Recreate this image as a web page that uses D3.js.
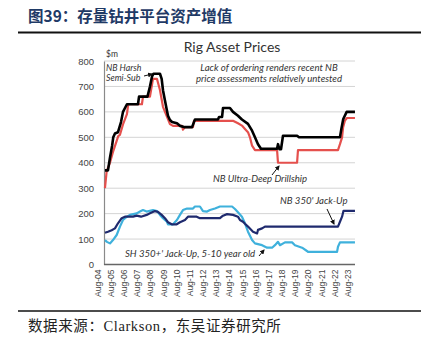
<!DOCTYPE html>
<html><head><meta charset="utf-8">
<script src="https://cdn.jsdelivr.net/npm/d3@7"></script>
<style>
html,body{margin:0;padding:0;background:#fff;}
svg{display:block;}
</style></head>
<body>
<svg id="chart" width="425" height="347"></svg>
<script>
// ---- data (x as decimal year, Aug = .583) ----
const tickYears = [2004,2005,2006,2007,2008,2009,2010,2011,2012,2013,2014,2015,2016,2017,2018,2019,2020,2021,2022,2023];
const tickLabels = ["Aug-04","Aug-05","Aug-06","Aug-07","Aug-08","Aug-09","Aug-10","Aug-11","Aug-12","Aug-13","Aug-14","Aug-15","Aug-16","Aug-17","Aug-18","Aug-19","Aug-20","Aug-21","Aug-22","Aug-23"];
const yTicks = [0,100,200,300,400,500,600,700,800];

const harshT = [2004.58,2004.81,2004.96,2005.12,2005.21,2005.34,2005.57,2005.80,2005.95,2006.25,2007.09,2007.17,2007.81,2008.00,2008.16,2008.27,2008.76,2008.89,2008.99,2009.14,2009.27,2009.37,2009.52,2009.68,2010.05,2010.28,2010.66,2011.20,2011.42,2013.17,2013.25,2013.48,2013.55,2014.08,2014.31,2014.69,2014.99,2015.45,2015.76,2015.98,2016.21,2016.44,2017.66,2017.73,2017.84,2017.96,2018.11,2019.18,2019.33,2022.44,2022.57,2022.69,2022.95,2023.58];
const harshV = [370,370,420,466,500,515,520,560,600,630,630,660,660,700,740,750,750,730,685,645,610,585,568,560,555,545,540,540,570,570,580,580,615,615,600,585,570,553,526,500,473,455,455,473,453,453,506,506,500,500,540,572,600,600];

const udT = [2004.58,2004.71,2004.96,2005.21,2005.47,2005.59,2005.72,2005.95,2006.25,2006.35,2007.39,2007.47,2008.00,2008.23,2008.53,2008.76,2008.99,2009.29,2009.52,2009.75,2010.44,2010.51,2010.66,2011.27,2011.35,2014.31,2014.69,2014.99,2015.22,2015.45,2015.60,2015.76,2015.98,2017.66,2017.73,2019.18,2019.25,2022.29,2022.44,2022.60,2022.68,2022.82,2022.97,2023.58];
const udV = [300,367,400,446,486,505,510,551,591,630,630,660,660,730,730,686,620,581,552,545,545,530,540,540,565,565,555,546,533,520,500,467,450,450,400,400,450,450,473,500,540,566,576,576];

const nbJuT = [2004.58,2004.81,2005.09,2005.34,2005.57,2005.85,2006.10,2006.71,2006.99,2007.32,2007.75,2008.00,2008.38,2008.61,2008.89,2009.14,2009.37,2009.65,2010.03,2010.28,2010.66,2010.89,2011.55,2011.80,2013.32,2013.55,2013.86,2014.31,2014.69,2014.84,2015.07,2015.22,2015.45,2015.83,2016.14,2016.21,2016.52,2016.74,2022.29,2022.44,2022.60,2022.71,2023.58];
const nbJuV = [125,129,135,142,162,182,188,188,192,188,195,201,210,207,195,182,166,158,158,166,175,188,188,182,182,192,198,195,188,175,168,160,149,129,122,136,142,149,149,168,188,211,211];

const shJuT = [2004.58,2004.73,2004.96,2005.19,2005.47,2005.72,2005.95,2006.25,2006.48,2006.99,2007.24,2007.47,2007.75,2008.23,2008.53,2008.76,2008.99,2009.29,2009.37,2009.75,2010.05,2010.28,2010.51,2010.82,2011.27,2011.42,2011.80,2012.03,2012.34,2012.56,2012.94,2013.32,2014.24,2014.46,2014.69,2014.99,2015.22,2015.45,2015.76,2015.98,2016.52,2016.90,2017.28,2017.50,2017.73,2017.88,2018.26,2018.80,2019.02,2019.56,2020.01,2022.22,2022.29,2022.44,2023.58];
const shJuV = [96,89,83,96,116,149,175,188,195,201,208,214,208,214,210,195,182,168,158,158,175,195,214,220,220,228,228,210,208,214,220,228,228,218,205,188,162,129,96,83,76,66,66,76,89,76,87,87,76,66,50,50,70,87,87];

// ---- drawing ----
const svg = d3.select("#chart");
const x = d3.scaleLinear().domain([2004.583, 2023.583]).range([105, 355]);
const y = d3.scaleLinear().domain([0, 800]).range([264.5, 61]);

// header
svg.append("text").attr("x", 28).attr("y", 22)
  .attr("font-family", "'Noto Sans CJK SC', sans-serif").attr("font-weight", "bold")
  .attr("font-size", 15.5).attr("fill", "#1f3a66").text("图39：存量钻井平台资产增值");
svg.append("line").attr("x1", 18).attr("x2", 421).attr("y1", 32.5).attr("y2", 32.5)
  .attr("stroke", "#111").attr("stroke-width", 2);

// gridlines
svg.append("g").selectAll("line").data(yTicks.filter(d => d > 0)).join("line")
  .attr("x1", 104).attr("x2", 355).attr("y1", d => y(d)).attr("y2", d => y(d))
  .attr("stroke", "#d4d4d4").attr("stroke-width", 1);

// axes
const yAxis = d3.axisLeft(y).tickValues(yTicks).tickSize(0).tickPadding(10);
const gy = svg.append("g").attr("transform", "translate(104,0)").call(yAxis);
gy.select(".domain").attr("stroke", "#8a8a8a").attr("stroke-width", 1.2);
gy.selectAll("text").attr("font-family", "'Liberation Sans', Arial, sans-serif").attr("font-size", 9.5).attr("fill", "#444");

const xAxis = d3.axisBottom(x).tickValues(tickYears.map(v => v + 0.583)).tickSize(0)
  .tickFormat((d, i) => tickLabels[i]);
const gx = svg.append("g").attr("transform", `translate(0,${y(0)})`).call(xAxis);
gx.select(".domain").attr("stroke", "#666").attr("stroke-width", 1.5).attr("d", "M104,0H355");
gx.selectAll("text").attr("font-family", "'Liberation Sans', Arial, sans-serif").attr("font-size", 8.5).attr("fill", "#444")
  .attr("transform", "rotate(-90)").attr("text-anchor", "end").attr("dx", "-5").attr("dy", "-0.55em").attr("y", 0).attr("x", 0);

// lines
const line = d3.line().x(d => x(d[0])).y(d => y(d[1]));
function series(T, V, color, w) {
  svg.append("path").datum(T.map((t, i) => [t, V[i]]))
    .attr("d", line).attr("fill", "none").attr("stroke", color).attr("stroke-width", w)
    .attr("stroke-linejoin", "round");
}
series(shJuT, shJuV, "#3fb1dc", 2.2);
series(nbJuT, nbJuV, "#1f2a6e", 2.2);
series(udT, udV, "#e5504d", 2.2);
series(harshT, harshV, "#000", 2.6);

// chart title & labels
const ff = "Lato, 'Open Sans', sans-serif";
svg.append("text").attr("x", 232).attr("y", 52).attr("text-anchor", "middle")
  .attr("font-family", ff).attr("font-size", 14).attr("fill", "#333").text("Rig Asset Prices");
svg.append("text").attr("x", 106).attr("y", 57)
  .attr("font-family", ff).attr("font-size", 8.5).attr("fill", "#333").text("$m");

const ann = (tx, ty, s, anchor, fs) => svg.append("text").attr("x", tx).attr("y", ty).attr("text-anchor", anchor || "start")
  .attr("font-family", ff).attr("font-style", "italic").attr("font-size", fs || 9.6).attr("fill", "#333").text(s);
ann(269, 71, "Lack of ordering renders recent NB", "middle");
ann(269, 82, "price assessments relatively untested", "middle");
ann(106, 70.5, "NB Harsh", "start", 8.8);
ann(106, 81, "Semi-Sub", "start", 8.8);
ann(213, 182, "NB Ultra-Deep Drillship");
ann(280, 204, "NB 350' Jack-Up");
ann(125, 257, "SH 350+' Jack-Up, 5-10 year old");

// arrows
const defs = svg.append("defs");
defs.append("marker").attr("id", "ah").attr("viewBox", "0 0 10 10").attr("refX", 8).attr("refY", 5)
  .attr("markerWidth", 5).attr("markerHeight", 5).attr("orient", "auto")
  .append("path").attr("d", "M0,0L10,5L0,10Z").attr("fill", "#111");
const arrow = (x1, y1, x2, y2) => svg.append("line").attr("x1", x1).attr("y1", y1).attr("x2", x2).attr("y2", y2)
  .attr("stroke", "#111").attr("stroke-width", 1).attr("marker-end", "url(#ah)");
arrow(144, 76, 152, 74);
arrow(272, 175, 279, 166);
arrow(327, 209, 334, 224);
arrow(259, 256, 264, 250);

// footer
svg.append("line").attr("x1", 18).attr("x2", 421).attr("y1", 311).attr("y2", 311)
  .attr("stroke", "#111").attr("stroke-width", 1.5);
svg.append("text").attr("x", 28).attr("y", 331)
  .attr("font-family", "'Liberation Serif', 'Noto Sans CJK SC', serif").attr("font-size", 14.5).attr("letter-spacing", 0.6).attr("fill", "#222")
  .text("数据来源：Clarkson，东吴证券研究所");
</script>
</body></html>
